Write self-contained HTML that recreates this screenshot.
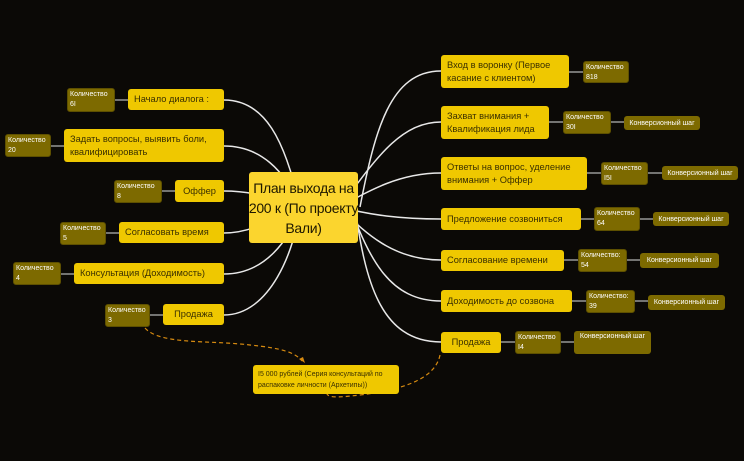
<!DOCTYPE html>
<html><head><meta charset="utf-8"><style>
body{margin:0;width:744px;height:461px;background:#0b0906;position:relative;overflow:hidden;font-family:"Liberation Sans","DejaVu Sans",sans-serif}
.n{position:absolute;background:#efc800;color:#3a3000;border-radius:3px;font-size:9.3px;line-height:13px;display:flex;align-items:center;padding:0 6px;box-sizing:border-box;white-space:nowrap}
.q{position:absolute;background:#7d6a00;color:#fff;border-radius:3px;font-size:7px;line-height:10px;padding:1px 2px;box-sizing:border-box;border:1px solid #5e5000;white-space:nowrap;overflow:hidden}
.c{position:absolute;background:#7d6a00;color:#fff;border-radius:3px;font-size:7px;display:flex;align-items:center;justify-content:center;box-sizing:border-box;white-space:nowrap}
svg{position:absolute;left:0;top:0}
</style></head><body>
<svg width="744" height="461">
<g fill="none" stroke="#e8e8e8" stroke-width="1.5">
<path d="M224 100 C265 100,285 140,300 207"/>
<path d="M224 146 C260 146,285 170,300 207"/>
<path d="M224 191 C255 191,280 200,300 207"/>
<path d="M224 233 C255 233,280 215,300 207"/>
<path d="M224 274 C265 274,290 240,300 207"/>
<path d="M224 315 C270 315,295 250,300 207"/>
<path d="M441 71 C390 71,375 130,360 207"/>
<path d="M441 122 C400 122,375 160,340 207"/>
<path d="M441 173 C400 173,370 190,340 207"/>
<path d="M441 219 C400 219,370 215,340 207"/>
<path d="M441 260 C400 260,370 240,340 207"/>
<path d="M441 301 C390 301,370 260,350 207"/>
<path d="M441 342 C380 342,365 280,355 207"/>
</g>
<g stroke="#bbb" stroke-width="1.2">
<line x1="115" y1="100" x2="128" y2="100"/><line x1="51" y1="146" x2="64" y2="146"/>
<line x1="162" y1="191" x2="175" y2="191"/><line x1="106" y1="233" x2="119" y2="233"/>
<line x1="61" y1="274" x2="74" y2="274"/><line x1="150" y1="315" x2="163" y2="315"/>
<line x1="569" y1="72" x2="583" y2="72"/>
<line x1="549" y1="122" x2="563" y2="122"/><line x1="611" y1="122" x2="624" y2="122"/>
<line x1="587" y1="173" x2="601" y2="173"/><line x1="648" y1="173" x2="662" y2="173"/>
<line x1="581" y1="219" x2="594" y2="219"/><line x1="640" y1="219" x2="653" y2="219"/>
<line x1="564" y1="260" x2="578" y2="260"/><line x1="627" y1="260" x2="640" y2="260"/>
<line x1="572" y1="301" x2="586" y2="301"/><line x1="635" y1="301" x2="648" y2="301"/>
<line x1="501" y1="342" x2="515" y2="342"/><line x1="561" y1="342" x2="574" y2="342"/>
</g>
<g fill="none" stroke="#d68a10" stroke-width="1.2" stroke-dasharray="4,3">
<path d="M145 328 C160 345,210 340,250 345 C280 348,295 352,302 361"/>
<path d="M440 355 C435 380,400 390,360 395 C335 398,325 398,327 391"/>
</g>
<path d="M299 359 L305 363 L303 357 Z" fill="#d68a10"/>
<path d="M324 393 L327 387 L330 393 Z" fill="#d68a10"/>
</svg>
<div class="n" style="left:249px;top:172px;width:109px;height:71px;background:#fbd52e;font-size:14px;line-height:20px;justify-content:center;text-align:center;color:#1e1800;padding:0;letter-spacing:-0.3px">План выхода на<br>200 к (По проекту<br>Вали)</div>

<div class="n" style="left:128px;top:89px;width:96px;height:21px">Начало диалога :</div>
<div class="q" style="left:67px;top:88px;width:48px;height:24px">Количество<br>6I</div>
<div class="n" style="left:64px;top:129px;width:160px;height:33px">Задать вопросы, выявить боли,<br>квалифицировать</div>
<div class="q" style="left:5px;top:134px;width:46px;height:23px">Количество<br>20</div>
<div class="n" style="left:175px;top:180px;width:49px;height:22px;justify-content:center">Оффер</div>
<div class="q" style="left:114px;top:180px;width:48px;height:23px">Количество<br>8</div>
<div class="n" style="left:119px;top:222px;width:105px;height:21px">Согласовать время</div>
<div class="q" style="left:60px;top:222px;width:46px;height:23px">Количество<br>5</div>
<div class="n" style="left:74px;top:263px;width:150px;height:21px">Консультация (Доходимость)</div>
<div class="q" style="left:13px;top:262px;width:48px;height:23px">Количество<br>4</div>
<div class="n" style="left:163px;top:304px;width:61px;height:21px;justify-content:center">Продажа</div>
<div class="q" style="left:105px;top:304px;width:45px;height:23px">Количество<br>3</div>

<div class="n" style="left:441px;top:55px;width:128px;height:33px">Вход в воронку (Первое<br>касание с клиентом)</div>
<div class="q" style="left:583px;top:61px;width:46px;height:22px">Количество<br>818</div>
<div class="n" style="left:441px;top:106px;width:108px;height:33px">Захват внимания +<br>Квалификация лида</div>
<div class="q" style="left:563px;top:111px;width:48px;height:23px">Количество<br>30I</div>
<div class="c" style="left:624px;top:116px;width:76px;height:14px">Конверсионный шаг</div>
<div class="n" style="left:441px;top:157px;width:146px;height:33px">Ответы на вопрос, уделение<br>внимания + Оффер</div>
<div class="q" style="left:601px;top:162px;width:47px;height:23px">Количество<br>I5I</div>
<div class="c" style="left:662px;top:166px;width:76px;height:14px">Конверсионный шаг</div>
<div class="n" style="left:441px;top:208px;width:140px;height:22px">Предложение созвониться</div>
<div class="q" style="left:594px;top:207px;width:46px;height:24px">Количество<br>64</div>
<div class="c" style="left:653px;top:212px;width:76px;height:14px">Конверсионный шаг</div>
<div class="n" style="left:441px;top:250px;width:123px;height:21px">Согласование времени</div>
<div class="q" style="left:578px;top:249px;width:49px;height:23px">Количество:<br>54</div>
<div class="c" style="left:640px;top:253px;width:79px;height:15px">Конверсионный шаг</div>
<div class="n" style="left:441px;top:290px;width:131px;height:22px">Доходимость до созвона</div>
<div class="q" style="left:586px;top:290px;width:49px;height:23px">Количество:<br>39</div>
<div class="c" style="left:648px;top:295px;width:77px;height:15px">Конверсионный шаг</div>
<div class="n" style="left:441px;top:332px;width:60px;height:21px;justify-content:center">Продажа</div>
<div class="q" style="left:515px;top:331px;width:46px;height:23px">Количество<br>I4</div>
<div class="c" style="left:574px;top:331px;width:77px;height:23px;align-items:flex-start;padding-top:2px">Конверсионный шаг</div>

<div class="n" style="left:253px;top:365px;width:146px;height:29px;font-size:7px;line-height:11px;padding:0 5px">I5 000 рублей (Серия консультаций по<br>распаковке личности (Архетипы))</div>
</body></html>
